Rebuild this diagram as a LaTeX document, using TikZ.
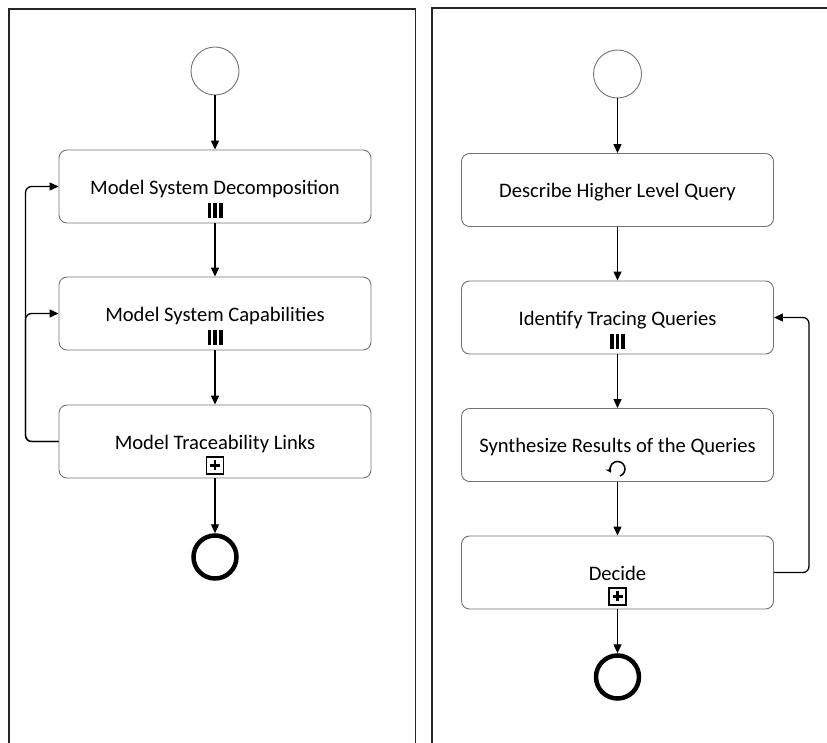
\documentclass[tikz,border=0pt]{standalone}
\usepackage{fontspec}
\setmainfont{Carlito}
\usetikzlibrary{arrows.meta}
\tikzset{
  mimark/.pic={\foreach \dx in {-5.6,0,5.6}{\fill (\dx-1.9,-7.5) rectangle (\dx+1.9,7.5);}},
  submark/.pic={\draw[line width=1.1] (-8.5,-8.5) rectangle (8.5,8.5);
                \draw[line width=2.6] (-5,0)--(5,0) (0,-5)--(0,5);},
  loopmark/.pic={\draw[line width=1.5,-{Stealth[length=5.5,width=6.5]}]
                 (70:7.5) arc[start angle=70,end angle=-210,radius=7.5];}
}
\begin{document}
\begin{tikzpicture}[x=1pt,y=-1pt,
  task/.style={draw=black!55, line width=0.9, rounded corners=8,
    minimum width=312, minimum height=73, inner sep=0,
    text height=18pt, text depth=2.2pt,
    font=\fontsize{20.6}{23}\selectfont},
  startev/.style={circle, draw=black!55, line width=0.9, minimum size=48, inner sep=0},
  endev/.style={circle, draw=black, line width=4.5, minimum size=43, inner sep=0},
  flow/.style={draw=black, line width=1.3, -{Triangle[length=9,width=8]}},
  pool/.style={draw=black!85, line width=1.6}
]
\useasboundingbox (0,0) rectangle (827,743);

% pools
\draw[pool] (9,743) -- (9,9) -- (415.5,9) -- (415.5,743);
\draw[pool] (432,743) -- (432,8) -- (830,8);

% left process
\node[startev] (ls) at (215,71) {};
\node[task] (l1) at (215,186.5) {Model System Decomposition};
\node[task] (l2) at (215,313.5) {Model System Capabilities};
\node[task] (l3) at (215,441.5) {Model Traceability Links};
\node[endev] (le) at (215,557) {};
\path (l1.south) ++(0,-13) pic{mimark};
\path (l2.south) ++(0,-13) pic{mimark};
\path (l3.south) ++(0,-13) pic{submark};

\draw[flow] (ls) -- (l1);
\draw[flow] (l1) -- (l2);
\draw[flow] (l2) -- (l3);
\draw[flow] (l3) -- (le);
\draw[flow, rounded corners=6] (l3.west) -- ++(-33,0) |- (l1.west);
\draw[flow, rounded corners=6] (l3.west) -- ++(-33,0) |- (l2.west);

% right process
\node[startev] (rs) at (617.5,74) {};
\node[task] (r1) at (617.5,190) {Describe Higher Level Query};
\node[task] (r2) at (617.5,317.5) {Identify Tracing Queries};
\node[task] (r3) at (617.5,445) {Synthesize Results of the Queries};
\node[task] (r4) at (617.5,572.5) {Decide};
\node[endev] (re) at (617.5,677) {};
\path (r2.south) ++(0,-13) pic{mimark};
\path (r3.south) ++(0,-13) pic{loopmark};
\path (r4.south) ++(0,-13) pic{submark};

\draw[flow] (rs) -- (r1);
\draw[flow] (r1) -- (r2);
\draw[flow] (r2) -- (r3);
\draw[flow] (r3) -- (r4);
\draw[flow] (r4) -- (re);
\draw[flow, rounded corners=6] (r4.east) -- ++(35,0) |- (r2.east);
\end{tikzpicture}
\end{document}
